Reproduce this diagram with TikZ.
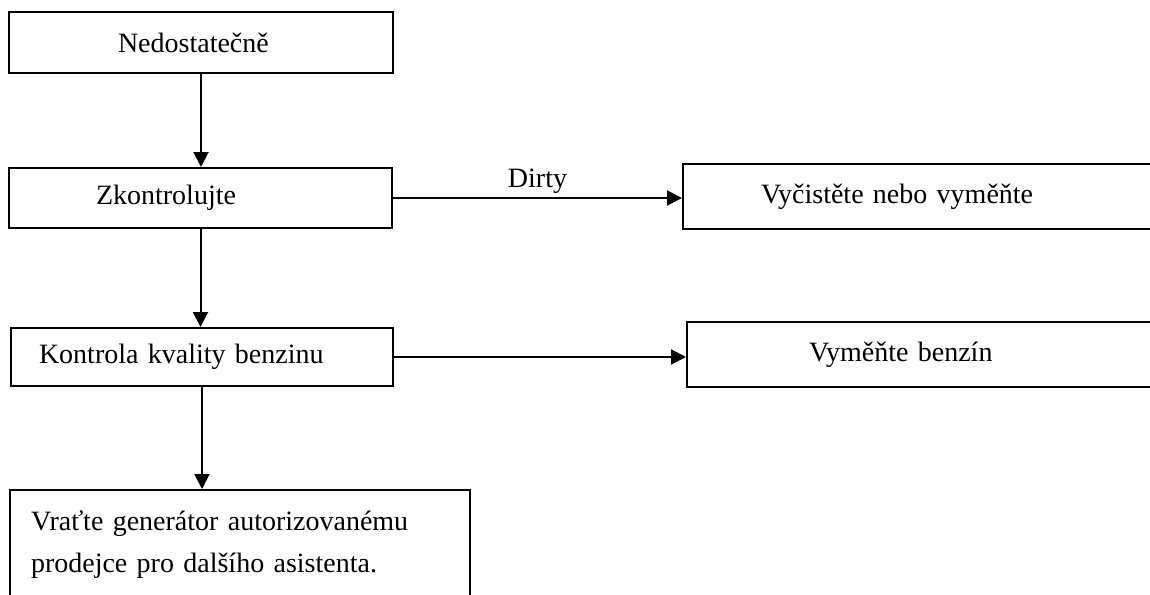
\documentclass[tikz,border=0pt]{standalone}
\usepackage{fontspec}
\setmainfont{Liberation Serif}
\usetikzlibrary{arrows.meta}
\tikzset{
  box/.style={draw=black,line width=2pt,inner ysep=0pt,align=left,font=\fontsize{28}{42}\selectfont},
  arr/.style={line width=2pt,-{Triangle[length=15pt,width=15pt]}}
}
\newcommand{\flowbox}[7]{\node[box,anchor=north west,inner xsep=#6pt,text width=#4pt,minimum height=#5pt] (#1) at (#2,#3) {#7};}

\begin{document}
\begin{tikzpicture}[x=1pt,y=-1pt]
\clip (0,0) rectangle (1150,594);
\flowbox{nedost}{8}{11}{166}{61}{109}{Nedostatečně}
\flowbox{zkontr}{8}{167}{209}{60}{87}{Zkontrolujte}
\flowbox{kvalita}{10}{327}{326}{58}{28}{Kontrola kvality benzinu}
\flowbox{vratte}{9}{489}{418}{110}{21}{Vraťte generátor autorizovanému\\prodejce pro dalšího asistenta.}
\flowbox{vycist}{682}{163}{344}{65}{78}{Vyčistěte nebo vyměňte}
\flowbox{benzin}{686}{321}{256}{65}{122}{Vyměňte benzín}
\draw[arr] (nedost.south) -- (nedost.south |- zkontr.north);
\draw[arr] (zkontr.south) -- (zkontr.south |- kvalita.north);
\draw[arr] (kvalita.south) -- (kvalita.south |- vratte.north);
\draw[arr] (zkontr.east) -- node[above,inner sep=3pt,font=\fontsize{28}{42}\selectfont] {Dirty} (zkontr.east -| vycist.west);
\draw[arr] (kvalita.east) -- (kvalita.east -| benzin.west);
\end{tikzpicture}
\end{document}
